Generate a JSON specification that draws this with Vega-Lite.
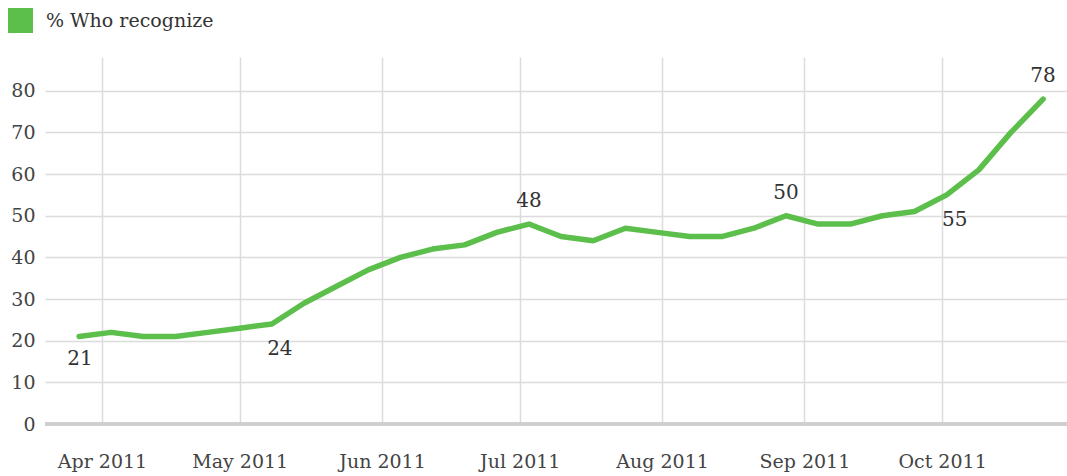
{
  "$schema": "https://vega.github.io/schema/vega-lite/v6.json",
  "width": 1022,
  "height": 367,
  "autosize": {"type": "none"},
  "padding": {"left": 45, "top": 57, "right": 0, "bottom": 52},
  "background": "#ffffff",
  "config": {
    "view": {"stroke": null},
    "font": "DejaVu Serif",
    "axis": {"labelFont": "DejaVu Serif", "labelFontSize": 19, "labelColor": "#444444", "gridColor": "#dcdcdc", "gridWidth": 1.5, "domain": false, "ticks": false, "title": null}
  },
  "data": {
    "values": [
      {"date": "2011-03-27", "value": 21, "note": "21"},
      {"date": "2011-04-03", "value": 22},
      {"date": "2011-04-10", "value": 21},
      {"date": "2011-04-17", "value": 21},
      {"date": "2011-04-24", "value": 22},
      {"date": "2011-05-01", "value": 23},
      {"date": "2011-05-08", "value": 24, "note": "24"},
      {"date": "2011-05-15", "value": 29},
      {"date": "2011-05-22", "value": 33},
      {"date": "2011-05-29", "value": 37},
      {"date": "2011-06-05", "value": 40},
      {"date": "2011-06-12", "value": 42},
      {"date": "2011-06-19", "value": 43},
      {"date": "2011-06-26", "value": 46},
      {"date": "2011-07-03", "value": 48, "note": "48"},
      {"date": "2011-07-10", "value": 45},
      {"date": "2011-07-17", "value": 44},
      {"date": "2011-07-24", "value": 47},
      {"date": "2011-07-31", "value": 46},
      {"date": "2011-08-07", "value": 45},
      {"date": "2011-08-14", "value": 45},
      {"date": "2011-08-21", "value": 47},
      {"date": "2011-08-28", "value": 50, "note": "50"},
      {"date": "2011-09-04", "value": 48},
      {"date": "2011-09-11", "value": 48},
      {"date": "2011-09-18", "value": 50},
      {"date": "2011-09-25", "value": 51},
      {"date": "2011-10-02", "value": 55, "note": "55"},
      {"date": "2011-10-09", "value": 61},
      {"date": "2011-10-16", "value": 70},
      {"date": "2011-10-23", "value": 78, "note": "78"}
    ],
    "format": {"parse": {"date": "date:'%Y-%m-%d'"}}
  },
  "encoding": {
    "x": {
      "field": "date",
      "type": "temporal",
      "scale": {"domain": [{"year": 2011, "month": 3, "date": 19, "hours": 14}, {"year": 2011, "month": 10, "date": 28, "hours": 5}]},
      "axis": {"format": "%b %Y", "tickCount": {"interval": "month", "step": 1}, "labelPadding": 28, "grid": true, "labelAlign": "center"}
    },
    "y": {
      "field": "value",
      "type": "quantitative",
      "scale": {"domain": [0, 88.1], "nice": false},
      "axis": {"values": [0, 10, 20, 30, 40, 50, 60, 70, 80], "labelPadding": 10, "grid": true}
    }
  },
  "layer": [
    {
      "mark": {"type": "rule", "color": "#cfcfcf", "strokeWidth": 3},
      "encoding": {"y": {"datum": 0}, "x": null}
    },
    {
      "mark": {"type": "line", "strokeWidth": 5.5, "strokeCap": "round", "strokeJoin": "round"},
      "encoding": {
        "color": {
          "datum": "% Who recognize",
          "scale": {"range": ["#5cbf4b"]},
          "legend": {
            "orient": "none", "legendX": -37, "legendY": -49, "title": null, "padding": 0,
            "symbolType": "square", "symbolSize": 625, "symbolStrokeWidth": 0,
            "labelFont": "DejaVu Serif", "labelFontSize": 19, "labelColor": "#333333", "labelOffset": 13, "labelLimit": 0,
            "encode": {"symbols": {"update": {"fill": {"value": "#5cbf4b"}, "stroke": {"value": "#5cbf4b"}, "strokeWidth": {"value": 0}}}}
          }
        }
      }
    },
    {
      "transform": [{"filter": "datum.note == '48' || datum.note == '50' || datum.note == '78'"}],
      "mark": {"type": "text", "dy": -23, "fontSize": 20, "font": "DejaVu Serif", "color": "#333333"},
      "encoding": {"text": {"field": "note"}}
    },
    {
      "transform": [{"filter": "datum.note == '21'"}],
      "mark": {"type": "text", "dy": 22, "dx": 1, "fontSize": 20, "font": "DejaVu Serif", "color": "#333333"},
      "encoding": {"text": {"field": "note"}}
    },
    {
      "transform": [{"filter": "datum.note == '24' || datum.note == '55'"}],
      "mark": {"type": "text", "dy": 25, "dx": 8, "fontSize": 20, "font": "DejaVu Serif", "color": "#333333"},
      "encoding": {"text": {"field": "note"}}
    }
  ]
}
